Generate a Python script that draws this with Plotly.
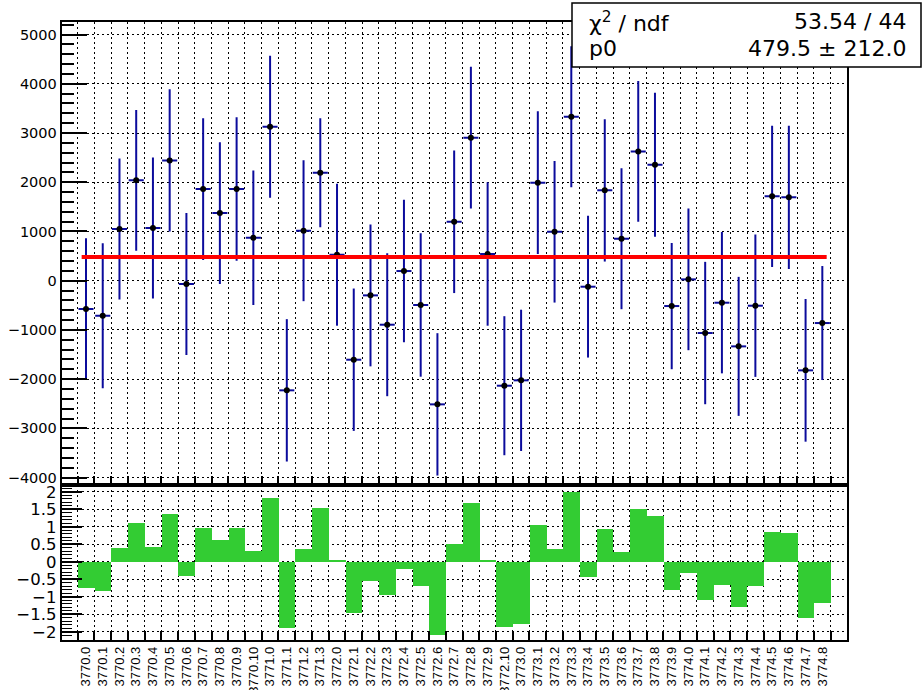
import plotly.graph_objects as go

# ---------------- data ----------------
labels = [
    "3770.0", "3770.1", "3770.2", "3770.3", "3770.4", "3770.5", "3770.6", "3770.7", "3770.8", "3770.9", "3770.10",
    "3771.0", "3771.1", "3771.2", "3771.3",
    "3772.0", "3772.1", "3772.2", "3772.3", "3772.4", "3772.5", "3772.6", "3772.7", "3772.8", "3772.9", "3772.10",
    "3773.0", "3773.1", "3773.2", "3773.3", "3773.4", "3773.5", "3773.6", "3773.7", "3773.8", "3773.9",
    "3774.0", "3774.1", "3774.2", "3774.3", "3774.4", "3774.5", "3774.6", "3774.7", "3774.8",
]
values = [
    -575, -711, 1049, 2038, 1070, 2444, -68, 1862, 1374, 1862, 873,
    3128, -2227, 1016, 2194,
    528, -1605, -298, -894, 196, -494, -2512, 1198, 2905, 542, -2133,
    -2024, 1991, 995, 3331, -122, 1835, 853, 2627, 2356, -515,
    27, -1063, -447, -1334, -508, 1713, 1693, -1821, -860,
]
errors = [
    1435, 1473, 1432, 1432, 1432, 1446, 1442, 1439, 1439, 1456, 1368,
    1442, 1446, 1432, 1107,
    1442, 1446, 1442, 1452, 1446, 1456, 1446, 1449, 1439, 1456, 1412,
    1435, 1449, 1439, 1432, 1439, 1446, 1432, 1432, 1462, 1283,
    1439, 1446, 1435, 1412, 1446, 1435, 1456, 1449, 1158,
]
pulls = [
    -0.75, -0.83, 0.41, 1.11, 0.42, 1.37, -0.41, 0.97, 0.64, 0.96, 0.30,
    1.84, -1.89, 0.38, 1.55,
    0.04, -1.46, -0.56, -0.96, -0.21, -0.69, -2.10, 0.51, 1.69, 0.05, -1.87,
    -1.77, 1.05, 0.37, 2.00, -0.43, 0.95, 0.27, 1.51, 1.30, -0.80,
    -0.33, -1.09, -0.67, -1.30, -0.70, 0.86, 0.84, -1.61, -1.17,
]
chi2 = "53.54"
ndf = "44"
p0 = 479.5
p0_err = 212.0

# ---------------- geometry helpers ----------------
W, H = 923, 690
def fx(px):
    return px / W
def fy(py):
    return 1 - py / H

x = list(range(len(labels)))
BLUE = "#0b0b9c"
GREEN = "#33cc33"

fig = go.Figure()

# points with errors
fig.add_trace(go.Scatter(
    x=x, y=values, mode="markers",
    marker=dict(color="black", size=6),
    error_y=dict(type="data", array=errors, color=BLUE, thickness=2, width=0),
    error_x=dict(type="constant", value=0.45, color=BLUE, thickness=2, width=0),
    xaxis="x", yaxis="y", showlegend=False, hoverinfo="skip",
))

# constant fit
fig.add_trace(go.Scatter(
    x=[x[0] - 0.26, x[-1] + 0.26], y=[p0, p0], mode="lines",
    line=dict(color="#ff0000", width=4),
    xaxis="x", yaxis="y", showlegend=False, hoverinfo="skip",
))

# pulls
fig.add_trace(go.Bar(
    x=x, y=pulls, width=1.0,
    marker=dict(color=GREEN, line=dict(width=0)),
    xaxis="x2", yaxis="y2", showlegend=False, hoverinfo="skip",
))

GRID_DASH = "2px,3px"
xdom = [fx(61.7), fx(847)]
xrange = [-1.452, 45.475]

common_x = dict(
    domain=xdom, range=xrange, tickmode="array", tickvals=x, ticktext=labels,
    ticks="", showgrid=False, zeroline=False, automargin=False,
    showline=True, mirror=True, linecolor="black", linewidth=2,
    minor=dict(tickmode="linear", tick0=-0.5, dtick=1, ticks="inside", ticklen=9,
               tickwidth=1.5, tickcolor="black", showgrid=True, gridcolor="black",
               gridwidth=1, griddash=GRID_DASH),
)

fig.update_layout(
    width=W, height=H,
    margin=dict(l=0, r=0, t=0, b=0),
    paper_bgcolor="white", plot_bgcolor="white",
    bargap=0,
    xaxis=dict(common_x, anchor="y", showticklabels=False),
    xaxis2=dict(common_x, anchor="y2", matches="x", showticklabels=True, tickangle=-90,
                tickfont=dict(family="Liberation Sans", size=13, color="black")),
    yaxis=dict(
        domain=[fy(485), fy(22.3)], range=[-4150, 5249], anchor="x", automargin=False,
        tickmode="linear", tick0=0, dtick=1000,
        ticks="inside", ticklen=25, tickwidth=1.5, tickcolor="black",
        showgrid=True, gridcolor="black", gridwidth=1, griddash=GRID_DASH,
        zeroline=False, showline=True, mirror=True, linecolor="black", linewidth=2,
        tickfont=dict(family="DejaVu Sans", size=14.5, color="black"),
        minor=dict(dtick=200, ticks="inside", ticklen=12, tickwidth=1.5, tickcolor="black", showgrid=False),
    ),
    yaxis2=dict(
        domain=[fy(639.5), fy(485)], range=[-2.22, 2.2], anchor="x2", automargin=False,
        tickmode="linear", tick0=0, dtick=0.5,
        ticks="inside", ticklen=20, tickwidth=1.5, tickcolor="black",
        showgrid=True, gridcolor="black", gridwidth=1, griddash=GRID_DASH,
        zeroline=False, showline=True, mirror=True, linecolor="black", linewidth=2,
        tickfont=dict(family="DejaVu Sans", size=16.5, color="black"),
        minor=dict(dtick=0.1, ticks="inside", ticklen=10, tickwidth=1, tickcolor="black", showgrid=False),
    ),
)

# stats box
fig.add_shape(type="rect", xref="paper", yref="paper",
              x0=fx(572), x1=fx(921), y0=fy(67), y1=fy(3),
              fillcolor="white", line=dict(color="black", width=1.5), layer="above")

box_font = dict(family="DejaVu Sans", size=22, color="black")
fig.add_annotation(xref="paper", yref="paper", x=fx(587), y=fy(22), xanchor="left", yanchor="middle",
                   text="χ<sup>2</sup> / ndf", showarrow=False, font=box_font)
fig.add_annotation(xref="paper", yref="paper", x=fx(908), y=fy(22), xanchor="right", yanchor="middle",
                   text=f"{chi2} / {ndf}", showarrow=False, font=box_font)
fig.add_annotation(xref="paper", yref="paper", x=fx(587), y=fy(49), xanchor="left", yanchor="middle",
                   text="p0", showarrow=False, font=box_font)
fig.add_annotation(xref="paper", yref="paper", x=fx(908), y=fy(49), xanchor="right", yanchor="middle",
                   text=f"{p0:.1f} ± {p0_err:.1f}", showarrow=False, font=box_font)

fig.write_html(
    "out.html",
    config={"displayModeBar": False},
    post_script="document.body.style.margin='0';document.body.style.overflow='hidden';",
)
